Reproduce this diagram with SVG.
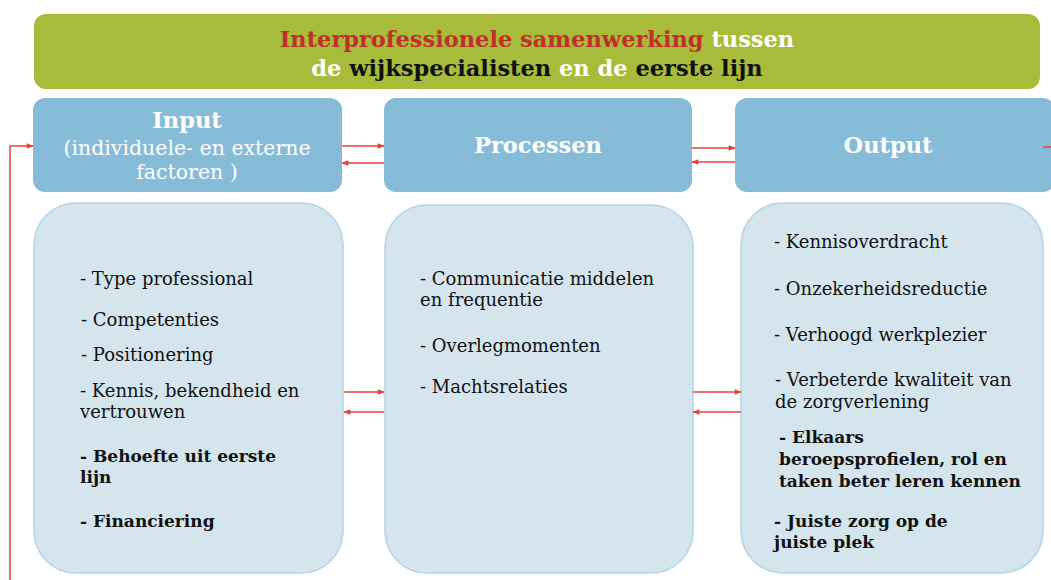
<svg xmlns="http://www.w3.org/2000/svg" width="1051" height="580" viewBox="0 0 1051 580">
  <style>
    .hdr { fill: #87bcd8; }
    .body { fill: #d4e5ee; stroke: #b4d3e4; stroke-width: 1.5; }
    .t { font-family: "DejaVu Serif", "Liberation Serif", serif; font-size: 18px; fill: #111; }
    .b { font-weight: bold; font-size: 17px; }
    .ht { font-family: "DejaVu Serif", "Liberation Serif", serif; fill: #fff; text-anchor: middle; }
    .hb { font-weight: bold; font-size: 22.5px; }
    .title { font-family: "DejaVu Serif", "Liberation Serif", serif; font-weight: bold; font-size: 22.5px; text-anchor: middle; }
    .arr { stroke: #e8413c; stroke-width: 1.5; fill: none; marker-end: url(#ah); }
    .ln { stroke: #e8413c; stroke-width: 1.5; fill: none; }
  </style>
  <defs>
    <marker id="ah" viewBox="0 0 10 10" refX="9" refY="5" markerWidth="8" markerHeight="7" markerUnits="userSpaceOnUse" orient="auto">
      <path d="M0,1 L10,5 L0,9 z" fill="#e8413c"/>
    </marker>
  </defs>

  <!-- Banner -->
  <g id="banner">
    <rect x="34" y="14" width="1006" height="75" rx="12" fill="#a9bb3a"/>
    <text class="title" x="537" y="47"><tspan fill="#c0302a">Interprofessionele samenwerking</tspan><tspan fill="#fff"> tussen</tspan></text>
    <text class="title" x="537" y="76"><tspan fill="#fff">de </tspan><tspan fill="#111">wijkspecialisten</tspan><tspan fill="#fff"> en de </tspan><tspan fill="#111">eerste lijn</tspan></text>
  </g>

  <!-- Column headers -->
  <g id="input-header">
    <rect class="hdr" x="33" y="98" width="309" height="94" rx="12"/>
    <text class="ht hb" x="187" y="128">Input</text>
    <text class="ht" x="187" y="155" font-size="20.5">(individuele- en externe</text>
    <text class="ht" x="187" y="179" font-size="20.5">factoren )</text>
  </g>
  <g id="processen-header">
    <rect class="hdr" x="384" y="98" width="308" height="94" rx="12"/>
    <text class="ht hb" x="538" y="153">Processen</text>
  </g>
  <g id="output-header">
    <rect class="hdr" x="735" y="98" width="320" height="94" rx="12"/>
    <text class="ht hb" x="888" y="153">Output</text>
  </g>

  <!-- Column bodies -->
  <g id="input-body">
    <rect class="body" x="34" y="203" width="309" height="370" rx="42"/>
    <text class="t" x="80" y="285">- Type professional</text>
    <text class="t" x="81" y="326">- Competenties</text>
    <text class="t" x="81" y="361">- Positionering</text>
    <text class="t" x="80" y="397">- Kennis, bekendheid en</text>
    <text class="t" x="80" y="418">vertrouwen</text>
    <text class="t b" x="80" y="462">- Behoefte uit eerste</text>
    <text class="t b" x="80" y="483">lijn</text>
    <text class="t b" x="80" y="527">- Financiering</text>
  </g>
  <g id="processen-body">
    <rect class="body" x="385" y="205" width="308" height="368" rx="42"/>
    <text class="t" x="420" y="285">- Communicatie middelen</text>
    <text class="t" x="420" y="306">en frequentie</text>
    <text class="t" x="420" y="352">- Overlegmomenten</text>
    <text class="t" x="420" y="393">- Machtsrelaties</text>
  </g>
  <g id="output-body">
    <rect class="body" x="741" y="203" width="302" height="370" rx="42"/>
    <text class="t" x="774" y="248">- Kennisoverdracht</text>
    <text class="t" x="774" y="295">- Onzekerheidsreductie</text>
    <text class="t" x="774" y="341">- Verhoogd werkplezier</text>
    <text class="t" x="775" y="386">- Verbeterde kwaliteit van</text>
    <text class="t" x="775" y="408">de zorgverlening</text>
    <text class="t b" x="779" y="443">- Elkaars</text>
    <text class="t b" x="779" y="465">beroepsprofielen, rol en</text>
    <text class="t b" x="779" y="487">taken beter leren kennen</text>
    <text class="t b" x="774" y="527">- Juiste zorg op de</text>
    <text class="t b" x="774" y="548">juiste plek</text>
  </g>

  <!-- Connectors -->
  <g id="connectors">
    <line class="arr" x1="342" y1="146" x2="384" y2="146"/>
    <line class="arr" x1="384" y1="163" x2="342" y2="163"/>
    <line class="arr" x1="692" y1="148" x2="735" y2="148"/>
    <line class="arr" x1="735" y1="162" x2="692" y2="162"/>
    <line class="arr" x1="344" y1="392" x2="384" y2="392"/>
    <line class="arr" x1="384" y1="412" x2="344" y2="412"/>
    <line class="arr" x1="693" y1="392" x2="741" y2="392"/>
    <line class="arr" x1="741" y1="412" x2="693" y2="412"/>
    <line class="ln" x1="1043" y1="147" x2="1051" y2="147"/>
    <path class="arr" d="M10,580 L10,146 L33,146"/>
  </g>
</svg>
